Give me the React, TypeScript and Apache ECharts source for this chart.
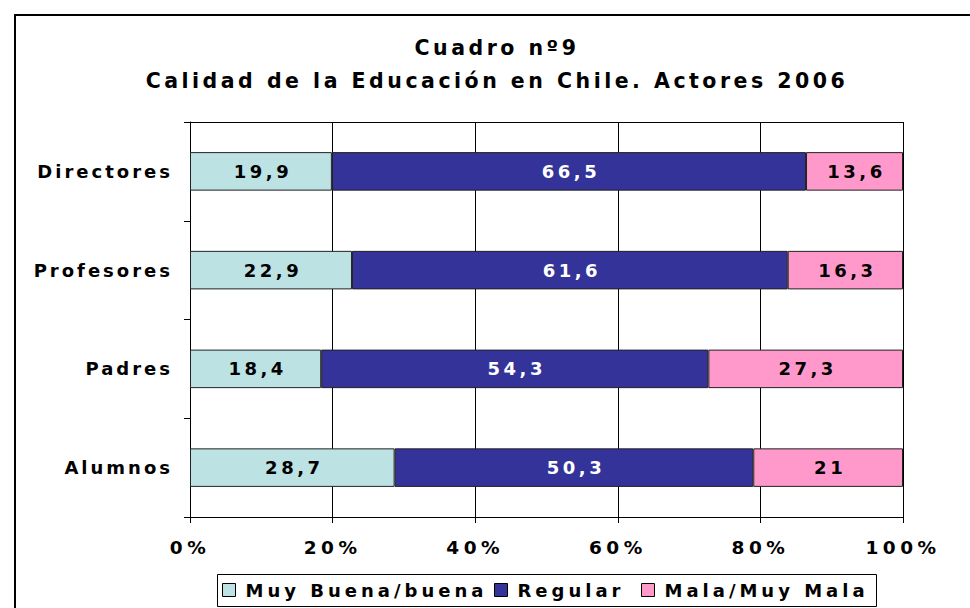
import React, { useEffect, useRef } from "react";
import * as echarts from "echarts";

const categories = ["Directores", "Profesores", "Padres", "Alumnos"];
const seriesNames = ["Muy Buena/buena", "Regular", "Mala/Muy Mala"];
const muyBuena = [19.9, 22.9, 18.4, 28.7];
const regular = [66.5, 61.6, 54.3, 50.3];
const mala = [13.6, 16.3, 27.3, 21];
const titleLines = ["Cuadro nº9", "Calidad de la Educación en Chile. Actores 2006"];
const colors = ["#BCE2E4", "#333399", "#FF99CC"];
const labelColors = ["#000000", "#FFFFFF", "#000000"];

const FONT = "DejaVu Sans";

const css = `
#chartbox text { letter-spacing: 3.5px; }
#chartbox text[text-anchor="end"] { letter-spacing: 3px; }
#chartbox text[text-anchor="start"] { letter-spacing: 4px; }
#chartbox text[style*="18.5px"] { letter-spacing: 4.5px; }
`;

export default function App() {
  const ref = useRef<HTMLDivElement>(null);
  useEffect(() => {
    if (!ref.current) return;
    const chart = echarts.init(ref.current, undefined, { renderer: "svg" });
    const raw = [muyBuena, regular, mala];
    const totals = categories.map((_, i) => muyBuena[i] + regular[i] + mala[i]);
    const legendLefts = [222, 494, 641];
    const option: any = {
      animation: false,
      backgroundColor: "#ffffff",
      textStyle: { fontFamily: FONT, fontWeight: "bold" },
      title: {
        text: titleLines.join("\n"),
        left: 497,
        top: 31,
        padding: 0,
        textAlign: "center",
        textStyle: {
          fontFamily: FONT,
          fontWeight: "bold",
          fontSize: 20.5,
          lineHeight: 33,
          color: "#000",
        },
      },
      grid: { left: 190, right: 67, top: 122, bottom: 91, containLabel: false },
      xAxis: [
        {
          type: "value",
          min: 0,
          max: 100,
          interval: 20,
          position: "bottom",
          axisLine: { show: true, lineStyle: { color: "#000", width: 1 } },
          axisTick: { show: true, length: 6, lineStyle: { color: "#000" } },
          splitLine: { show: true, lineStyle: { color: "#000", width: 1 } },
          axisLabel: {
            formatter: "{value}%",
            fontFamily: FONT,
            fontWeight: "bold",
            fontSize: 18.5,
            color: "#000",
            margin: 21,
          },
        },
        {
          type: "value",
          min: 0,
          max: 100,
          position: "top",
          axisLine: { show: true, lineStyle: { color: "#000", width: 1 } },
          axisTick: { show: false },
          axisLabel: { show: false },
          splitLine: { show: false },
        },
      ],
      yAxis: {
        type: "category",
        data: categories,
        inverse: true,
        axisLine: { show: true, lineStyle: { color: "#000", width: 1 } },
        axisTick: { show: true, length: 6, lineStyle: { color: "#000" } },
        axisLabel: {
          fontFamily: FONT,
          fontWeight: "bold",
          fontSize: 18,
          color: "#000",
          margin: 17,
        },
      },
      legend: seriesNames.map((name, k) => ({
        data: [name],
        left: legendLefts[k],
        top: 581,
        padding: 0,
        itemWidth: 13,
        itemHeight: 13,
        icon: "rect",
        itemStyle: { borderColor: "#000", borderWidth: 1 },
        textStyle: {
          fontFamily: FONT,
          fontWeight: "bold",
          fontSize: 18,
          color: "#000",
          padding: [0, 0, 0, 5],
        },
        selectedMode: false,
      })),
      graphic: [
        {
          type: "rect",
          shape: { x: 15, y: 15, width: 1000, height: 700 },
          style: { fill: "none", stroke: "#000", lineWidth: 2 },
          silent: true,
        },
        {
          type: "rect",
          shape: { x: 217.5, y: 574.5, width: 659, height: 32 },
          style: { fill: "none", stroke: "#000", lineWidth: 1 },
          silent: true,
        },
      ],
      series: seriesNames.map((name, k) => ({
        name,
        type: "bar",
        stack: "total",
        xAxisIndex: 0,
        barWidth: "39%",
        itemStyle: { color: colors[k], borderColor: "#222", borderWidth: 1 },
        label: {
          show: true,
          position: "inside",
          fontFamily: FONT,
          fontWeight: "bold",
          fontSize: 18,
          color: labelColors[k],
          offset: [2, 0],
          formatter: (p: any) => String(raw[k][p.dataIndex]).replace(".", ","),
        },
        data: raw[k].map((v, i) => (v / totals[i]) * 100),
      })),
    };
    chart.setOption(option);
    return () => chart.dispose();
  }, []);
  return (
    <>
      <style>{css}</style>
      <div
        id="chartbox"
        ref={ref}
        style={{
          position: "absolute",
          left: 0,
          top: 0,
          width: 970,
          height: 608,
        }}
      />
    </>
  );
}
